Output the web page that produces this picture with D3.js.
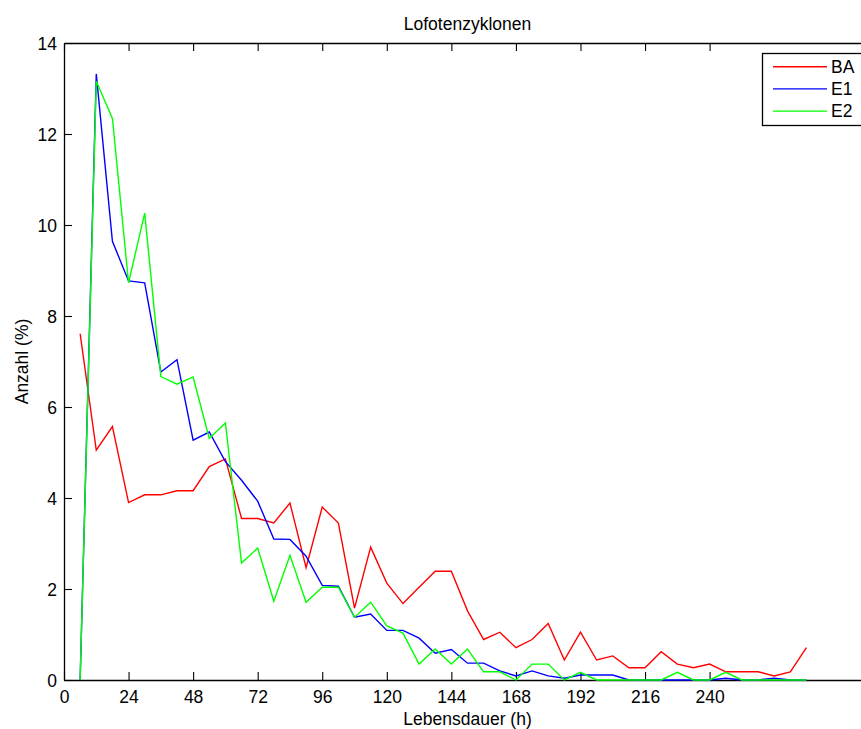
<!DOCTYPE html>
<html>
<head>
<meta charset="utf-8">
<script src="https://cdn.jsdelivr.net/npm/d3@7"></script>
<style>
  html, body { margin: 0; padding: 0; background: #fff; overflow: hidden; }
  svg { display: block; }
  text { font-family: "Liberation Sans", Arial, Helvetica, sans-serif; fill: #000; }
</style>
</head>
<body>
<svg id="chart" width="861" height="729"></svg>
<script>
// Lifetime classes (hours)
const hours = [6, 12, 18, 24, 30, 36, 42, 48, 54, 60, 66, 72, 78, 84, 90, 96, 102, 108, 114, 120,
  126, 132, 138, 144, 150, 156, 162, 168, 174, 180, 186, 192, 198, 204, 210, 216, 222, 228, 234, 240,
  246, 252, 258, 264, 270, 276];

// Share of cyclones per lifetime class (%)
const seriesBA = [7.61, 5.05, 5.57, 3.90, 4.07, 4.07, 4.16, 4.16, 4.69, 4.86, 3.55, 3.55, 3.45, 3.89, 2.47, 3.80, 3.45, 1.58, 2.92, 2.13,
  1.68, 2.04, 2.39, 2.39, 1.52, 0.89, 1.05, 0.71, 0.89, 1.24, 0.44, 1.05, 0.44, 0.53, 0.27, 0.27, 0.62, 0.35, 0.27, 0.35,
  0.18, 0.18, 0.18, 0.09, 0.18, 0.71];
const seriesE1 = [0, 13.32, 9.64, 8.77, 8.73, 6.77, 7.04, 5.27, 5.45, 4.80, 4.39, 3.93, 3.10, 3.09, 2.72, 2.08, 2.06, 1.38, 1.45, 1.09,
  1.09, 0.92, 0.59, 0.67, 0.37, 0.37, 0.20, 0.09, 0.20, 0.09, 0.04, 0.11, 0.11, 0.11, 0, 0, 0, 0, 0, 0,
  0.04, 0, 0, 0.04, 0, 0];
const seriesE2 = [0, 13.16, 12.34, 8.73, 10.26, 6.67, 6.50, 6.66, 5.31, 5.65, 2.57, 2.90, 1.73, 2.74, 1.71, 2.04, 2.04, 1.38, 1.71, 1.19,
  1.03, 0.35, 0.68, 0.35, 0.68, 0.18, 0.18, 0, 0.35, 0.35, 0, 0.17, 0, 0, 0, 0, 0, 0.17, 0, 0,
  0.17, 0, 0, 0, 0, 0];

const seriesNames = ["BA", "E1", "E2"];
const seriesColors = ["#ff0000", "#0000ff", "#00ff00"];
const xTicks = [0, 24, 48, 72, 96, 120, 144, 168, 192, 216, 240];
const yTicks = [0, 2, 4, 6, 8, 10, 12, 14];

const series = [seriesBA, seriesE1, seriesE2];

const svg = d3.select("#chart");
const plotLeft = 64, plotRight = 871, plotTop = 43, plotBottom = 680;
const fontSize = "17.5px";

const x = d3.scaleLinear().domain([0, 300]).range([plotLeft, plotRight]);
const y = d3.scaleLinear().domain([0, 14]).range([plotBottom, plotTop]);

// Axes box with inward ticks
const axisStyle = g => {
  g.selectAll("path.domain").attr("stroke", "#000").attr("stroke-width", 1.3);
  g.selectAll(".tick line").attr("stroke", "#000").attr("stroke-width", 1.1);
  g.selectAll(".tick text").style("font-size", fontSize).attr("fill", "#000");
};

svg.append("g")
  .attr("transform", `translate(0,${plotBottom})`)
  .call(d3.axisBottom(x).tickValues(xTicks).tickSize(-8).tickSizeOuter(0).tickPadding(10).tickFormat(d3.format("d")))
  .call(axisStyle)
  .call(g => g.selectAll(".tick text").attr("dy", "0.71em").attr("y", 11));

svg.append("g")
  .attr("transform", `translate(0,${plotTop})`)
  .call(d3.axisTop(x).tickValues(xTicks).tickSize(-8).tickSizeOuter(0).tickFormat(""))
  .call(axisStyle);

svg.append("g")
  .attr("transform", `translate(${plotLeft},0)`)
  .call(d3.axisLeft(y).tickValues(yTicks).tickSize(-8).tickSizeOuter(0).tickPadding(7).tickFormat(d3.format("d")))
  .call(axisStyle)
  .call(g => g.selectAll(".tick text").attr("x", -7).attr("dy", "0.38em"));

svg.append("g")
  .attr("transform", `translate(${plotRight},0)`)
  .call(d3.axisRight(y).tickValues(yTicks).tickSize(-8).tickSizeOuter(0).tickFormat(""))
  .call(axisStyle);

// Series lines
const line = d3.line()
  .x((d, i) => x(hours[i]))
  .y(d => y(d));

series.forEach((vals, k) => {
  svg.append("path")
    .datum(vals)
    .attr("fill", "none")
    .attr("stroke", seriesColors[k])
    .attr("stroke-width", 1.4)
    .attr("stroke-linejoin", "miter")
    .attr("d", line);
});

// Title and axis labels
svg.append("text")
  .attr("x", (plotLeft + plotRight) / 2).attr("y", 30)
  .attr("text-anchor", "middle")
  .style("font-size", fontSize)
  .text("Lofotenzyklonen");

svg.append("text")
  .attr("x", (plotLeft + plotRight) / 2).attr("y", 725)
  .attr("text-anchor", "middle")
  .style("font-size", fontSize)
  .text("Lebensdauer (h)");

svg.append("text")
  .attr("transform", `translate(28,${(plotTop + plotBottom) / 2}) rotate(-90)`)
  .attr("text-anchor", "middle")
  .style("font-size", fontSize)
  .text("Anzahl (%)");

// Legend
const legend = svg.append("g");
legend.append("rect")
  .attr("x", 762.5).attr("y", 53.5)
  .attr("width", 103).attr("height", 72)
  .attr("fill", "#fff").attr("stroke", "#000").attr("stroke-width", 1.3);

seriesNames.forEach((name, k) => {
  const ly = 66.7 + k * 22.2;
  legend.append("line")
    .attr("x1", 773).attr("x2", 827)
    .attr("y1", ly).attr("y2", ly)
    .attr("stroke", seriesColors[k]).attr("stroke-width", 1.4);
  legend.append("text")
    .attr("x", 831).attr("y", ly)
    .attr("dy", "0.36em")
    .style("font-size", fontSize)
    .text(name);
});
</script>
</body>
</html>
